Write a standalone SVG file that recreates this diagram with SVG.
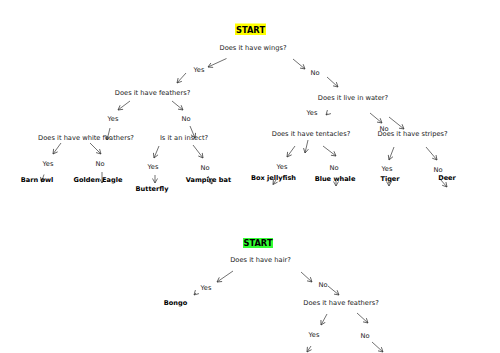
<svg xmlns="http://www.w3.org/2000/svg" width="500" height="353" viewBox="0 0 500 353">
<style>
text{font-family:"DejaVu Sans","Liberation Sans",sans-serif;text-anchor:middle;}
.q{font-size:6.7px;fill:#222;}
.a{font-size:6.7px;fill:#222;}
.l{font-size:6.6px;font-weight:bold;fill:#000;}
.s{font-size:8.3px;font-weight:bold;fill:#000;}
.c line{stroke:#333;stroke-width:0.7;marker-end:url(#ah);}
</style>
<defs>
<marker id="ah" markerUnits="userSpaceOnUse" markerWidth="6" markerHeight="6" refX="5" refY="3" orient="auto">
<path d="M0.5,0.5 L5,3 L0.5,5.5" fill="none" stroke="#333" stroke-width="0.7"/>
</marker>
</defs>
<rect width="500" height="353" fill="#fff"/>

<g class="c" id="connectors">
<line x1="226.5" y1="58.5" x2="208" y2="67"/>
<line x1="186" y1="73" x2="177" y2="83"/>
<line x1="293" y1="59" x2="305" y2="69"/>
<line x1="327" y1="77" x2="338" y2="87"/>
<line x1="130" y1="101" x2="118" y2="110"/>
<line x1="172" y1="101" x2="183" y2="110"/>
<line x1="110" y1="128" x2="107" y2="140"/>
<line x1="190" y1="126" x2="195" y2="138"/>
<line x1="61" y1="143" x2="53" y2="154"/>
<line x1="90" y1="143" x2="101" y2="154"/>
<line x1="44" y1="174.5" x2="41.5" y2="182"/>
<line x1="102" y1="172" x2="102" y2="183"/>
<line x1="159" y1="146" x2="154" y2="158"/>
<line x1="193" y1="145" x2="203" y2="158"/>
<line x1="155" y1="175" x2="155" y2="183"/>
<line x1="208" y1="176" x2="212" y2="184"/>
<line x1="327.5" y1="113.5" x2="326" y2="115"/>
<line x1="370" y1="113" x2="382" y2="123"/>
<line x1="389" y1="117" x2="404" y2="129"/>
<line x1="295" y1="146" x2="287" y2="157"/>
<line x1="308" y1="140" x2="305" y2="153"/>
<line x1="323" y1="146" x2="336" y2="156"/>
<line x1="276" y1="180" x2="273" y2="184.5"/>
<line x1="336" y1="181" x2="336" y2="186"/>
<line x1="394" y1="147" x2="389" y2="160"/>
<line x1="426" y1="147" x2="437" y2="160"/>
<line x1="389" y1="182" x2="389" y2="186"/>
<line x1="440" y1="179" x2="447" y2="187"/>
<line x1="233" y1="271" x2="217" y2="282"/>
<line x1="196" y1="293" x2="194" y2="295"/>
<line x1="301" y1="272" x2="312" y2="282"/>
<line x1="328" y1="286" x2="339" y2="295"/>
<line x1="327" y1="314" x2="321" y2="325"/>
<line x1="357" y1="313" x2="368" y2="323"/>
<line x1="311" y1="346" x2="307" y2="352"/>
<line x1="372" y1="342" x2="383" y2="352"/>
</g>

<g id="start1"><rect x="235" y="23.5" width="31" height="11.5" fill="#ffff00"/><text class="s" x="250.5" y="32.5">START</text></g>
<g id="q-wings"><text class="q" x="253" y="49.5">Does it have wings?</text></g>
<g id="yes-wings"><text class="a" x="199" y="72">Yes</text></g>
<g id="no-wings"><text class="a" x="315" y="74.5">No</text></g>
<g id="q-feathers"><text class="q" x="152.5" y="94.5">Does it have feathers?</text></g>
<g id="yes-feathers"><text class="a" x="113" y="120.5">Yes</text></g>
<g id="no-feathers"><text class="a" x="186" y="120.5">No</text></g>
<g id="q-white"><text class="q" x="86" y="139.5">Does it have white feathers?</text></g>
<g id="q-insect"><text class="q" x="184" y="139.5">Is it an insect?</text></g>
<g id="yes-white"><text class="a" x="48" y="165.5">Yes</text></g>
<g id="no-white"><text class="a" x="100" y="165.5">No</text></g>
<g id="barn-owl"><text class="l" x="37" y="181.5">Barn owl</text></g>
<g id="golden-eagle"><text class="l" x="98" y="181.5">Golden Eagle</text></g>
<g id="yes-insect"><text class="a" x="153" y="168.5">Yes</text></g>
<g id="no-insect"><text class="a" x="205" y="169.5">No</text></g>
<g id="butterfly"><text class="l" x="152" y="190.5">Butterfly</text></g>
<g id="vampire-bat"><text class="l" x="208.5" y="181.5">Vampire bat</text></g>
<g id="q-water"><text class="q" x="353" y="99.5">Does it live in water?</text></g>
<g id="yes-water"><text class="a" x="312" y="114.5">Yes</text></g>
<g id="no-water"><text class="a" x="384" y="130.5">No</text></g>
<g id="q-tentacles"><text class="q" x="311" y="135.5">Does it have tentacles?</text></g>
<g id="q-stripes"><text class="q" x="412.5" y="135.5">Does it have stripes?</text></g>
<g id="yes-tentacles"><text class="a" x="282" y="168.5">Yes</text></g>
<g id="no-tentacles"><text class="a" x="334" y="169.5">No</text></g>
<g id="box-jellyfish"><text class="l" x="273.5" y="179.5">Box jellyfish</text></g>
<g id="blue-whale"><text class="l" x="335" y="180.5">Blue whale</text></g>
<g id="yes-stripes"><text class="a" x="387" y="170.5">Yes</text></g>
<g id="no-stripes"><text class="a" x="438" y="171.5">No</text></g>
<g id="tiger"><text class="l" x="390" y="180.5">Tiger</text></g>
<g id="deer"><text class="l" x="447" y="179.5">Deer</text></g>

<g id="start2"><rect x="243" y="238" width="30" height="10" fill="#33ff33"/><text class="s" x="258" y="246">START</text></g>
<g id="q-hair"><text class="q" x="260.5" y="261.5">Does it have hair?</text></g>
<g id="yes-hair"><text class="a" x="206" y="289.5">Yes</text></g>
<g id="bongo"><text class="l" x="175.5" y="304.5">Bongo</text></g>
<g id="no-hair"><text class="a" x="323" y="286.5">No</text></g>
<g id="q-feathers2"><text class="q" x="341" y="304.5">Does it have feathers?</text></g>
<g id="yes-feathers2"><text class="a" x="314" y="336.5">Yes</text></g>
<g id="no-feathers2"><text class="a" x="365" y="337.5">No</text></g>
</svg>
